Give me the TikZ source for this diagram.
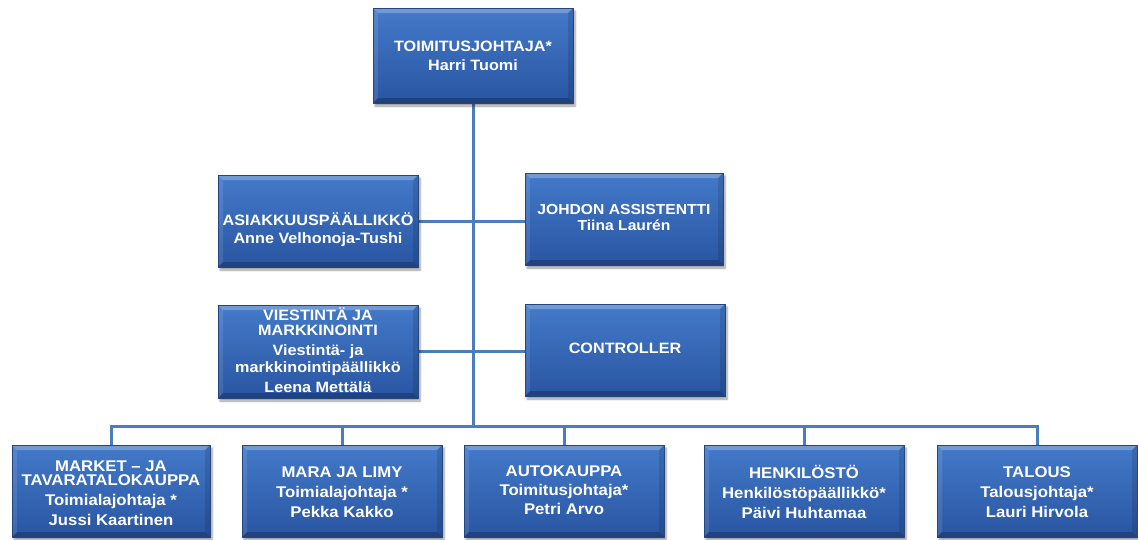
\documentclass[tikz,border=0pt]{standalone}
\usepackage{fontspec}
\setmainfont{Liberation Sans}[FakeStretch=1.08]
\usetikzlibrary{shadows.blur,backgrounds}

\definecolor{boxtop}{HTML}{437AC9}
\definecolor{boxbot}{HTML}{2955A2}
\definecolor{boxedge}{HTML}{24467F}
\definecolor{linkblue}{HTML}{4A7DBE}

\tikzset{
  orgbox/.style={rectangle, minimum width=200pt, minimum height=92pt,
    inner sep=0pt, top color=boxtop, bottom color=boxbot,
    draw=boxedge, line width=0.5pt,
    blur shadow={shadow xshift=2pt, shadow yshift=-3pt,
                 shadow blur steps=6, shadow opacity=40},
    path picture={
      % bevelled rim: light on top and left, dark on bottom and right
      \fill[white,opacity=.25]
        (path picture bounding box.north west) --
        (path picture bounding box.north east) --
        ([shift={(-5pt,-5pt)}]path picture bounding box.north east) --
        ([shift={(5pt,-5pt)}]path picture bounding box.north west) -- cycle;
      \fill[white,opacity=.10]
        (path picture bounding box.north west) --
        ([shift={(5pt,-5pt)}]path picture bounding box.north west) --
        ([shift={(5pt,5pt)}]path picture bounding box.south west) --
        (path picture bounding box.south west) -- cycle;
      \fill[black,opacity=.12]
        (path picture bounding box.north east) --
        ([shift={(-5pt,-5pt)}]path picture bounding box.north east) --
        ([shift={(-5pt,5pt)}]path picture bounding box.south east) --
        (path picture bounding box.south east) -- cycle;
      \fill[black,opacity=.22]
        (path picture bounding box.south west) --
        ([shift={(5pt,5pt)}]path picture bounding box.south west) --
        ([shift={(-5pt,5pt)}]path picture bounding box.south east) --
        (path picture bounding box.south east) -- cycle;
    }},
  boxtext/.style={text=white, align=center, inner sep=0pt,
    font=\bfseries\fontsize{15}{19}\selectfont},
  link/.style={draw=linkblue, line width=3pt}
}

\begin{document}
\begin{tikzpicture}[x=1pt, y=-1pt]
  \useasboundingbox (0,0) rectangle (1138,539);

  \coordinate (hub) at (473,426);

  % boxes
  \node[orgbox, minimum height=95pt] (ceo) at (473,55.5) {};
  \node[orgbox] (asiak) at (318,221) {};
  \node[orgbox, minimum width=198pt] (assist) at (624,219) {};
  \node[orgbox, minimum height=93pt] (viest) at (318,351.5) {};
  \node[orgbox] (ctrl) at (625,350) {};
  \node[orgbox, minimum width=198pt] (market) at (111,491) {};
  \node[orgbox] (mara) at (342,491) {};
  \node[orgbox] (auto) at (564,491) {};
  \node[orgbox] (henk) at (804,491) {};
  \node[orgbox] (talous) at (1037,491) {};

  % connectors, kept behind the boxes
  \begin{pgfonlayer}{background}
    \draw[link] (ceo.south) -- (hub);
    \draw[link] (asiak.east) -- (asiak.east -| assist.west);
    \draw[link] (viest.east) -- (viest.east -| ctrl.west);
    \draw[link] (market.north) |- (hub) -| (talous.north);
    \draw[link] (mara.north) -- (mara.north |- hub);
    \draw[link] (auto.north) -- (auto.north |- hub);
    \draw[link] (henk.north) -- (henk.north |- hub);
  \end{pgfonlayer}

  % texts
  \node[boxtext] (ceo-t) at (473,56) {TOIMITUSJOHTAJA*\\Harri Tuomi};
  \node[boxtext, font=\bfseries\fontsize{15}{18}\selectfont] (asiak-t) at (318,230)
    {ASIAKKUUSPÄÄLLIKKÖ\\Anne Velhonoja-Tushi};
  \node[boxtext, font=\bfseries\fontsize{14.5}{16}\selectfont] (assist-t) at (624,218)
    {JOHDON ASSISTENTTI\\Tiina Laurén};
  \node[boxtext, font=\bfseries\fontsize{15}{17}\selectfont] (viest-t) at (318,350)
    {VIESTINTÄ JA\\[-2pt]MARKKINOINTI\\[3pt]Viestintä- ja\\[0pt]markkinointipäällikkö\\[3pt]Leena Mettälä};
  \node[boxtext] (ctrl-t) at (625,348) {CONTROLLER};
  \node[boxtext, font=\bfseries\fontsize{15.5}{20}\selectfont] (market-t) at (111,493)
    {MARKET – JA\\[-6pt]TAVARATALOKAUPPA\\Toimialajohtaja *\\Jussi Kaartinen};
  \node[boxtext, font=\bfseries\fontsize{15.5}{20}\selectfont] (mara-t) at (342,492)
    {MARA JA LIMY\\Toimialajohtaja *\\Pekka Kakko};
  \node[boxtext, font=\bfseries\fontsize{15.5}{19}\selectfont] (auto-t) at (564,490)
    {AUTOKAUPPA\\Toimitusjohtaja*\\Petri Arvo};
  \node[boxtext, font=\bfseries\fontsize{15.5}{20}\selectfont] (henk-t) at (804,492)
    {HENKILÖSTÖ\\Henkilöstöpäällikkö*\\Päivi Huhtamaa};
  \node[boxtext, font=\bfseries\fontsize{15.5}{20}\selectfont] (talous-t) at (1037,492)
    {TALOUS\\Talousjohtaja*\\Lauri Hirvola};
\end{tikzpicture}
\end{document}
